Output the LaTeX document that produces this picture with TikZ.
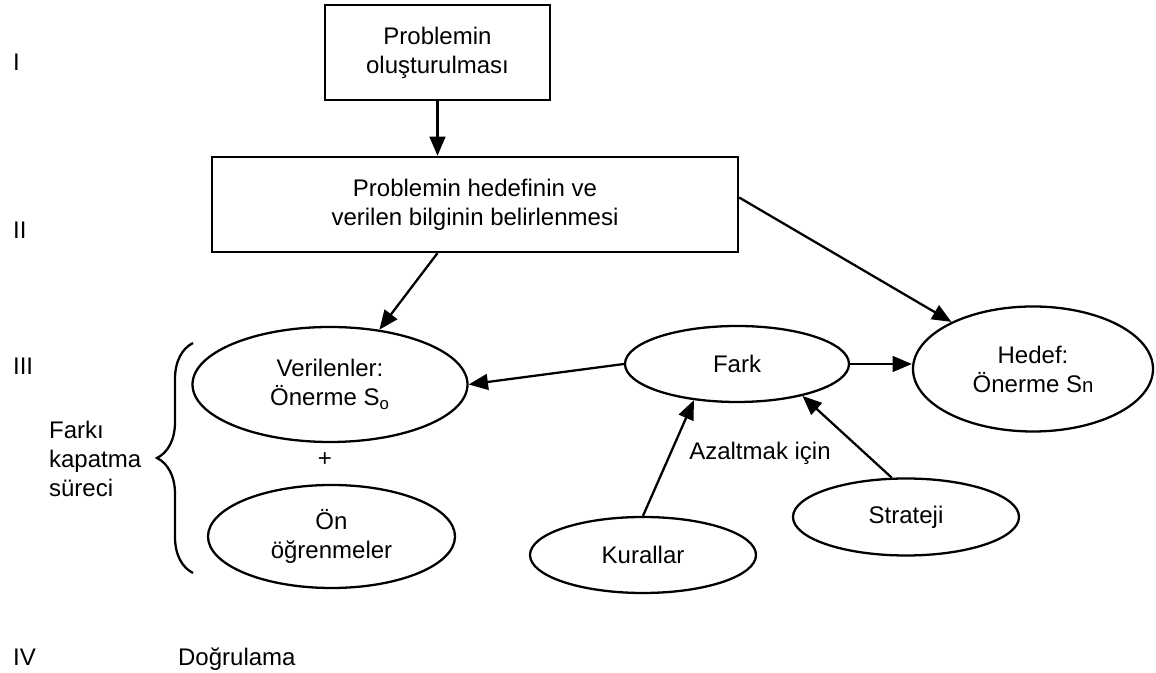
\documentclass[tikz,border=0pt]{standalone}
\usepackage{fontspec}
\setmainfont{Liberation Sans}
\usepackage{tikz}
\usetikzlibrary{arrows.meta,shapes.geometric,decorations.pathreplacing}
\tikzset{>={Triangle[length=11pt,width=9pt]}}
\tikzset{%
    kutu/.style={draw, rectangle, align=center, inner sep=0pt},
    oval/.style={draw, ellipse, align=center, inner sep=0pt},
    etiket/.style={anchor=base west, inner sep=0pt}
}

\begin{document}
\begin{tikzpicture}[line width=1.3pt, font=\fontsize{13.66}{16.5}\selectfont]
\useasboundingbox (0,0) rectangle (23.12,13.46);

\node[etiket] (bir) at (0.24,12.04) {I};
\node[etiket] (iki) at (0.24,8.68) {II};
\node[etiket] (uc) at (0.24,5.96) {III};
\node[etiket] (dort) at (0.24,0.14) {IV};
\node[etiket] (dogrulama) at (3.54,0.14) {Doğrulama};

\node[kutu, minimum width=4.5cm, minimum height=1.9cm] (olusum) at (8.75,12.41) {Problemin\\oluşturulması};
\node[kutu, minimum width=10.52cm, minimum height=1.9cm] (belirleme) at (9.5,9.37) {Problemin hedefinin ve\\verilen bilginin belirlenmesi};

\node[oval, minimum width=5.5cm, minimum height=2.3cm] (verilen) at (6.6,5.77) {Verilenler:\\Önerme S\textsubscript{o}};
\node (arti) at (6.5,4.26) {+};
\node[oval, minimum width=4.94cm, minimum height=2.06cm] (on) at (6.63,2.73) {Ön\\öğrenmeler};
\node[oval, minimum width=4.48cm, minimum height=1.52cm] (fark) at (14.74,6.18) {Fark};
\node[oval, minimum width=4.8cm, minimum height=2.5cm] (hedef) at (20.66,6.08) {Hedef:\\Önerme S{\fontsize{11.6}{12}\selectfont n}};
\node[oval, minimum width=4.52cm, minimum height=1.52cm] (kural) at (12.86,2.36) {Kurallar};
\node[oval, minimum width=4.52cm, minimum height=1.54cm] (strateji) at (18.12,3.12) {Strateji};
\node (azalt) at (15.2,4.4) {Azaltmak için};

\node[anchor=west, align=left, inner sep=0pt] (surec) at (0.96,4.28) {Farkı\\kapatma\\süreci};
\draw[decorate, decoration={brace, amplitude=0.72cm}] (3.86,2.0) -- (3.86,6.6);

\draw[->] (olusum.south) -- (olusum.south |- belirleme.north);
\draw[->] (olusum.south |- belirleme.south) -- (verilen.48);
\draw[->] ([yshift=0.14cm]belirleme.east) -- (hedef.150);
\draw[->] (fark.west) -- (verilen.east);
\draw[->] (fark.east) -- (fark.east -| hedef.west);
\draw[->] (kural.north) -- (fark.220);
\draw[->] (strateji.110) -- (fark.334);
\end{tikzpicture}
\end{document}
